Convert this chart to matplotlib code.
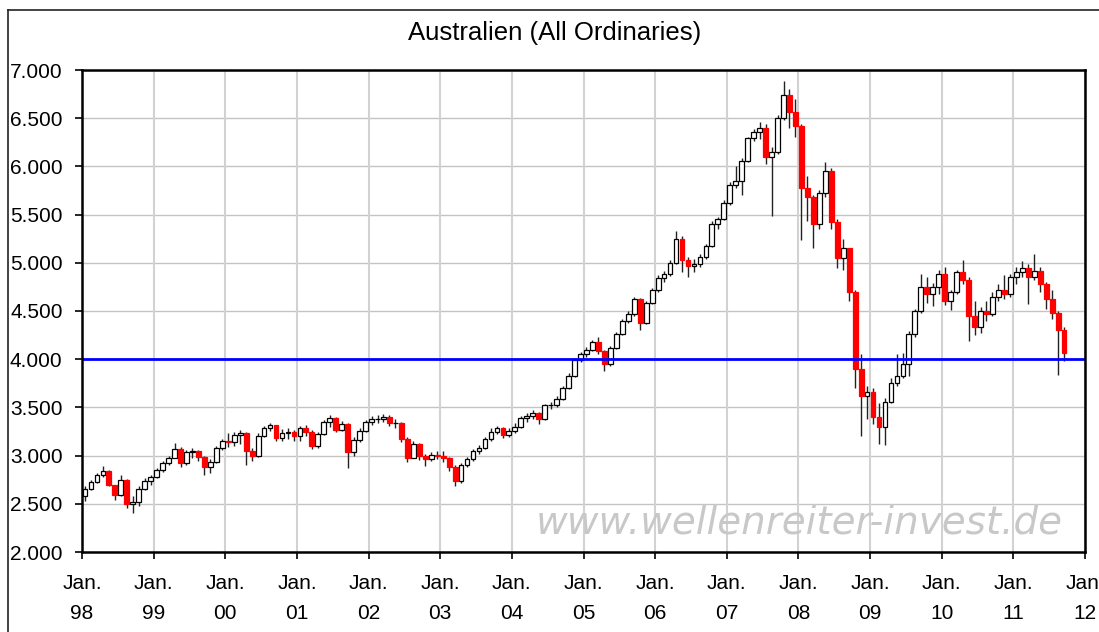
import numpy as np
import matplotlib
matplotlib.use("Agg")
import matplotlib.pyplot as plt
from matplotlib.lines import Line2D

plt.rcParams['font.family'] = ['Liberation Sans', 'DejaVu Sans']

# ---- data (monthly candles, Jan 1998 .. Sep 2011) ----
first_open = 2580
closes_1998 = [2650, 2730, 2800, 2840, 2700, 2590, 2750, 2500, 2520, 2650, 2740, 2780]
highs_1998  = [2680, 2750, 2820, 2890, 2850, 2700, 2800, 2760, 2580, 2680, 2770, 2800]
lows_1998   = [2530, 2640, 2720, 2780, 2680, 2540, 2580, 2460, 2400, 2480, 2640, 2700]
closes_1999 = [2850, 2920, 2980, 3070, 2920, 3040, 3050, 2990, 2880, 2930, 3080, 3150]
highs_1999  = [2870, 2940, 3000, 3130, 3090, 3060, 3080, 3060, 3000, 2960, 3100, 3170]
lows_1999   = [2770, 2830, 2900, 2970, 2880, 2900, 2980, 2940, 2800, 2820, 2920, 3060]
closes_2000 = [3140, 3210, 3230, 3050, 3000, 3200, 3290, 3320, 3180, 3230, 3250, 3200]
highs_2000  = [3230, 3240, 3270, 3240, 3080, 3230, 3310, 3340, 3320, 3280, 3290, 3270]
lows_2000   = [3090, 3100, 3120, 2900, 2940, 2990, 3190, 3250, 3150, 3150, 3170, 3150]
closes_2001 = [3290, 3250, 3100, 3220, 3350, 3390, 3270, 3330, 3040, 3160, 3260, 3350]
highs_2001  = [3310, 3320, 3270, 3240, 3370, 3420, 3400, 3360, 3340, 3190, 3290, 3370]
lows_2001   = [3150, 3200, 3070, 3080, 3210, 3300, 3240, 3250, 2870, 3000, 3140, 3240]
closes_2002 = [3380, 3380, 3400, 3340, 3340, 3170, 2980, 3120, 3000, 2960, 3010, 3000]
highs_2002  = [3410, 3420, 3430, 3420, 3380, 3350, 3190, 3150, 3130, 3020, 3040, 3050]
lows_2002   = [3320, 3340, 3350, 3310, 3290, 3140, 2930, 2970, 2950, 2890, 2940, 2960]
closes_2003 = [2980, 2880, 2740, 2900, 2960, 3050, 3080, 3170, 3250, 3290, 3210, 3260]
highs_2003  = [3050, 2990, 2900, 2920, 2990, 3070, 3110, 3190, 3290, 3310, 3300, 3290]
lows_2003   = [2930, 2840, 2680, 2720, 2880, 2940, 3020, 3070, 3150, 3220, 3180, 3190]
closes_2004 = [3300, 3390, 3410, 3440, 3380, 3520, 3530, 3590, 3700, 3830, 3990, 4050]
highs_2004  = [3340, 3410, 3440, 3470, 3450, 3540, 3560, 3620, 3720, 3860, 4010, 4070]
lows_2004   = [3230, 3290, 3350, 3380, 3330, 3370, 3480, 3500, 3580, 3690, 3820, 3970]
closes_2005 = [4100, 4180, 4080, 3950, 4120, 4260, 4400, 4470, 4620, 4380, 4580, 4720]
highs_2005  = [4130, 4200, 4230, 4100, 4140, 4280, 4420, 4500, 4650, 4640, 4600, 4740]
lows_2005   = [4020, 4090, 4050, 3880, 3930, 4110, 4250, 4380, 4450, 4300, 4370, 4570]
closes_2006 = [4840, 4880, 5000, 5250, 5030, 4970, 4990, 5060, 5170, 5400, 5450, 5620]
highs_2006  = [4870, 4910, 5030, 5330, 5280, 5060, 5040, 5090, 5200, 5430, 5480, 5650]
lows_2006   = [4700, 4800, 4860, 4990, 4900, 4850, 4900, 4960, 5040, 5160, 5350, 5440]
closes_2007 = [5810, 5850, 6060, 6290, 6360, 6400, 6100, 6150, 6500, 6740, 6560, 6420]
highs_2007  = [5840, 6000, 6090, 6310, 6390, 6460, 6440, 6200, 6530, 6890, 6800, 6700]
lows_2007   = [5600, 5780, 5700, 6050, 6260, 6280, 6030, 5490, 6130, 6480, 6400, 6300]
closes_2008 = [5780, 5680, 5400, 5720, 5950, 5420, 5050, 5150, 4700, 3900, 3620, 3660]
highs_2008  = [6440, 5900, 5700, 5760, 6050, 5980, 5450, 5250, 5150, 4720, 4050, 3720]
lows_2008   = [5240, 5430, 5150, 5350, 5680, 5350, 4950, 4930, 4600, 3700, 3200, 3380]
closes_2009 = [3400, 3300, 3560, 3750, 3830, 3950, 4260, 4500, 4750, 4680, 4750, 4880]
highs_2009  = [3700, 3550, 3600, 3800, 4050, 4060, 4290, 4520, 4880, 4850, 4790, 4930]
lows_2009   = [3330, 3120, 3110, 3550, 3720, 3800, 3830, 4230, 4480, 4580, 4550, 4680]
closes_2010 = [4600, 4700, 4900, 4820, 4450, 4330, 4500, 4470, 4650, 4720, 4680, 4850]
highs_2010  = [4960, 4720, 4930, 5030, 4850, 4600, 4540, 4600, 4700, 4780, 4870, 4880]
lows_2010   = [4560, 4510, 4680, 4780, 4190, 4250, 4270, 4400, 4450, 4600, 4620, 4650]
closes_2011 = [4900, 4950, 4850, 4920, 4780, 4620, 4480, 4300, 4060]
highs_2011  = [4960, 5020, 4990, 5090, 4960, 4800, 4720, 4500, 4330]
lows_2011   = [4780, 4850, 4570, 4820, 4700, 4520, 4420, 3840, 3980]

years = list(range(1998, 2012))
closes = np.array(sum([globals()[f"closes_{y}"] for y in years], []), float)
highs = np.array(sum([globals()[f"highs_{y}"] for y in years], []), float)
lows = np.array(sum([globals()[f"lows_{y}"] for y in years], []), float)
opens = np.concatenate([[first_open], closes[:-1]])
highs = np.maximum(highs, np.maximum(opens, closes))
lows = np.minimum(lows, np.minimum(opens, closes))

month_idx = np.arange(len(closes))
xs = 1998 + (month_idx + 0.5) / 12.0

year_ticks = list(range(1998, 2013))
year_labels = [f"Jan.\n{y % 100:02d}" for y in year_ticks]
y_ticks = list(range(2000, 7001, 500))
ref_level = 4000
title = "Australien (All Ordinaries)"
watermark = "www.wellenreiter-invest.de"

# ---- figure ----
W, H = 1099, 632
fig = plt.figure(figsize=(W / 100, H / 100), dpi=100)
fig.patch.set_facecolor("white")
ax = fig.add_axes([82 / W, 1 - 552 / H, (1085 - 82) / W, (552 - 70) / H])

# outer frame (partially cropped in reference)
fig.add_artist(Line2D([8 / W, 8 / W], [-0.1, 1 - 10 / H], color="#222222", lw=1.2, transform=fig.transFigure))
fig.add_artist(Line2D([8 / W, 1.1], [1 - 10 / H, 1 - 10 / H], color="#222222", lw=1.2, transform=fig.transFigure))

ax.set_xlim(1998, 2012)
ax.set_ylim(2000, 7000)

for yv in y_ticks:
    ax.axhline(yv, color="#c4c4c4", lw=1.0, zorder=1)
for xv in year_ticks:
    ax.axvline(xv, color="#d2d2d2", lw=1.5, zorder=1)

up = closes >= opens
width = 0.8 / 12
ax.vlines(xs, lows, highs, colors="#222222", lw=1.0, zorder=2)
ax.bar(xs[up], (closes - opens)[up], bottom=opens[up], width=width,
       facecolor="white", edgecolor="black", lw=0.9, zorder=3)
ax.bar(xs[~up], (opens - closes)[~up], bottom=closes[~up], width=width,
       facecolor="#ff0000", edgecolor="#ff0000", lw=0.9, zorder=3)

ax.axhline(ref_level, color="#0000ff", lw=2.0, zorder=4)

ax.set_yticks(y_ticks)
ax.set_yticklabels([f"{v:,.0f}".replace(",", ".") for v in y_ticks])
ax.set_xticks(year_ticks)
ax.set_xticklabels(year_labels, linespacing=1.7)
ax.tick_params(axis="both", labelsize=15, direction="out", length=5, width=1.2, colors="black")
ax.tick_params(axis="y", pad=9)
ax.tick_params(axis="x", pad=11)
for sp in ax.spines.values():
    sp.set_linewidth(1.8)
    sp.set_color("black")
    sp.set_zorder(5)

fig.text(555 / W, 1 - 33 / H, title, ha="center", va="center", fontsize=18.5)

ax.text(1063 / W, 1 - 522 / H, watermark, transform=fig.transFigure, ha="right", va="center",
        fontsize=28, style="italic", family="DejaVu Sans", color="#c8c8c8", zorder=1.5)

fig.savefig("out.png", dpi=100, facecolor="white")
